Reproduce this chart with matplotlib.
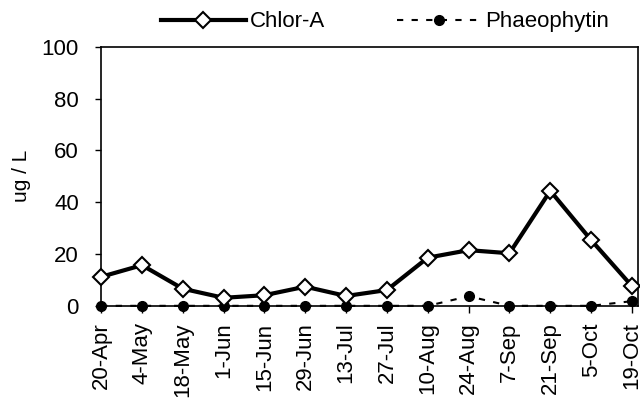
import matplotlib
matplotlib.use('agg')

import matplotlib.pyplot as plt

dates = ['20-Apr', '4-May', '18-May', '1-Jun', '15-Jun', '29-Jun', '13-Jul',
         '27-Jul', '10-Aug', '24-Aug', '7-Sep', '21-Sep', '5-Oct', '19-Oct']
chlor_a = [11.2, 15.7, 6.6, 3.1, 4.1, 7.4, 3.8, 6.1, 18.6, 21.5, 20.3, 44.4, 25.4, 7.6]
phaeophytin = [0, 0, 0, 0, 0, 0, 0, 0, 0, 3.7, 0, 0, 0, 1.8]

plt.rcParams['font.family'] = ['Liberation Sans', 'DejaVu Sans']

fig = plt.figure(figsize=(6.4, 4.04), dpi=100)
ax = fig.add_axes([0.158, 0.243, 0.839, 0.641])

x = list(range(len(dates)))
ax.plot(x, chlor_a, color='black', lw=3, marker='D', ms=8, mfc='white',
        mec='black', mew=1.5, label='Chlor-A', zorder=4, clip_on=False)
ax.plot(x, phaeophytin, color='black', lw=1.5, ls=(0, (3, 4)), marker='o', ms=7,
        label='Phaeophytin', zorder=3, clip_on=False)

ax.set_ylim(0, 100)
ax.set_xlim(0, len(dates) - 1 + 0.15)
ax.set_yticks([0, 20, 40, 60, 80, 100])
ax.set_xticks(x)
ax.set_xticklabels(dates, rotation=90)
ax.tick_params(axis='both', labelsize=16, direction='out', length=4, width=1, colors='black')
ax.tick_params(axis='y', pad=12)
ax.tick_params(axis='x', length=5, pad=7)
ax.set_ylabel('ug / L', fontsize=15)
ax.yaxis.set_label_coords(-0.13, 0.5)

for s in ax.spines.values():
    s.set_linewidth(1.2)
    s.set_color('black')

leg = fig.legend(loc='center', bbox_to_anchor=(0.602, 0.946), ncol=2, frameon=False,
                 fontsize=16, handlelength=3.8, handletextpad=0.2, columnspacing=3.2)

fig.savefig('out.png', dpi=100)
